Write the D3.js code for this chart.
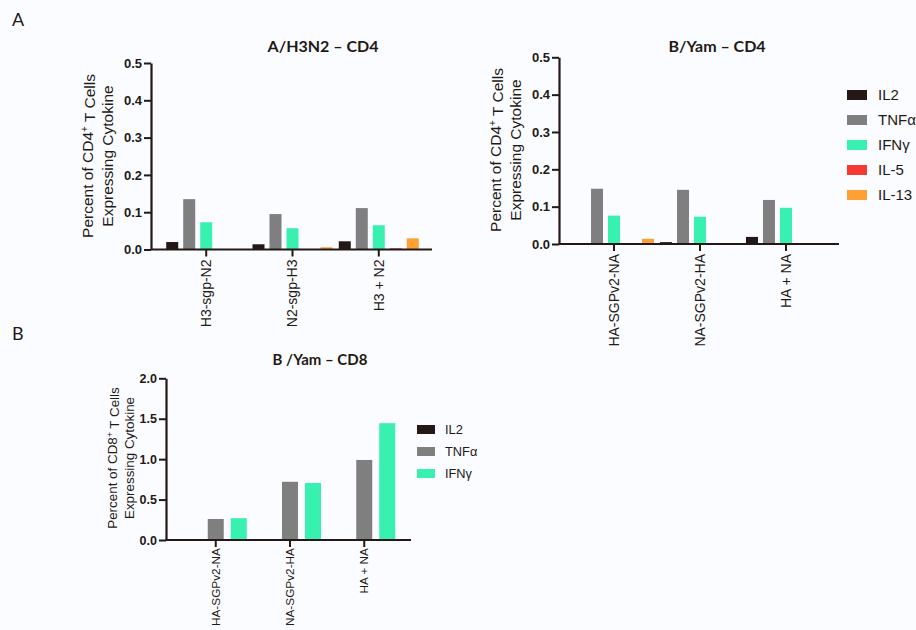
<html>
<meta charset="utf-8">

<head>
    <script src="https://d3js.org/d3.v7.min.js"></script>
    <style>
        body {
            margin: 0;
            background: #fbfcff;
        }

        .tick text {
            font-family: "Liberation Sans", Arial, sans-serif;
        }
    </style>
</head>

<body>
    <svg id="fig" width="916" height="630"></svg>

    <script>
        // cytokines and colours
        const cytokines = ["IL2", "TNFα", "IFNγ", "IL-5", "IL-13"];
        const colors = ["#231815", "#7f7f7f", "#38f0b0", "#f53a35", "#ffa034"];

        // A/H3N2 - CD4
        const h3n2Groups = ["H3-sgp-N2", "N2-sgp-H3", "H3 + N2"];
        const h3n2IL2 = [0.020, 0.014, 0.022];
        const h3n2TNF = [0.135, 0.095, 0.111];
        const h3n2IFN = [0.073, 0.057, 0.065];
        const h3n2IL5 = [0.000, 0.000, 0.003];
        const h3n2IL13 = [0.000, 0.006, 0.030];

        // B/Yam - CD4
        const yamGroups = ["HA-SGPv2-NA", "NA-SGPv2-HA", "HA + NA"];
        const yamIL2 = [0.002, 0.005, 0.019];
        const yamTNF = [0.148, 0.145, 0.118];
        const yamIFN = [0.076, 0.073, 0.097];
        const yamIL5 = [0.000, 0.002, 0.000];
        const yamIL13 = [0.014, 0.002, 0.000];

        // B/Yam - CD8
        const cd8IL2 = [0.000, 0.000, 0.010];
        const cd8TNF = [0.26, 0.72, 0.99];
        const cd8IFN = [0.27, 0.705, 1.445];

        const svg = d3.select("svg#fig");

        svg.append("text").text("A").attr("x", 12).attr("y", 26)
            .style("font-family", "Lato, sans-serif").style("font-size", "18px").attr("fill", "#231815");
        svg.append("text").text("B").attr("x", 12).attr("y", 340)
            .style("font-family", "Lato, sans-serif").style("font-size", "18px").attr("fill", "#231815");

        function drawPanel(cfg) {
            const g = svg.append("g");
            const x = d3.scaleBand().domain(cfg.groups).range([cfg.x0, cfg.x1]).paddingInner(cfg.pad).paddingOuter(cfg.padOuter);
            const y = d3.scaleLinear().domain([0, cfg.ymax]).range([cfg.yb, cfg.yt]);
            const barStep = cfg.barStep;
            const barW = cfg.barW;
            const n = cfg.series.length;

            // bars
            cfg.groups.forEach((grp, gi) => {
                const cx = x(grp) + x.bandwidth() / 2;
                const start = cx - ((n - 1) * barStep + barW) / 2;
                cfg.series.forEach((s, si) => {
                    const v = s[gi];
                    if (v <= 0) return;
                    g.append("rect")
                        .attr("x", start + si * barStep)
                        .attr("width", barW)
                        .attr("y", y(v))
                        .attr("height", Math.max(0.8, y(0) - y(v)))
                        .attr("fill", colors[si]);
                });
            });

            // y axis
            const yAxis = d3.axisLeft(y).tickValues(cfg.yticks).tickFormat(d3.format(".1f")).tickSize(7).tickSizeOuter(0);
            const ya = g.append("g").attr("transform", `translate(${cfg.x0},0)`).call(yAxis);
            ya.select(".domain").attr("stroke", "#231815").attr("stroke-width", 2.2);
            ya.selectAll(".tick line").attr("stroke", "#231815").attr("stroke-width", 2);
            ya.selectAll(".tick text").style("font-size", cfg.tickFont).style("font-weight", "bold")
                .attr("fill", "#231815").attr("x", -9);

            // x axis
            const xAxis = d3.axisBottom(x).tickSize(7).tickSizeOuter(0);
            const xa = g.append("g").attr("transform", `translate(0,${cfg.yb})`).call(xAxis);
            xa.select(".domain").attr("stroke", "#231815").attr("stroke-width", 2.2)
                .attr("d", `M${cfg.x0},0H${cfg.xend}`);
            xa.selectAll(".tick line").attr("stroke", "#231815").attr("stroke-width", 2);
            xa.selectAll(".tick text")
                .style("font-size", cfg.xFont)
                .attr("fill", "#231815")
                .attr("transform", "rotate(-90)")
                .attr("text-anchor", "end")
                .attr("x", cfg.xOff).attr("y", 0).attr("dy", "0.35em");

            // title
            g.append("text").text(cfg.title)
                .attr("x", cfg.titleX).attr("y", cfg.titleY)
                .attr("text-anchor", "middle")
                .style("font-family", "Lato, sans-serif").style("font-weight", "bold").style("font-size", cfg.titleFont)
                .attr("fill", "#231815");

            // y label
            const yl = g.append("text")
                .attr("transform", `translate(${cfg.labX},${cfg.labY}) rotate(-90)`)
                .attr("text-anchor", "middle")
                .style("font-family", "'Liberation Sans', Arial, sans-serif")
                .style("font-size", cfg.labFont)
                .attr("fill", "#231815");
            const l1 = yl.append("tspan").attr("x", 0).attr("y", 0);
            l1.append("tspan").text("Percent of " + cfg.cell);
            l1.append("tspan").text("+").attr("dy", "-0.45em").style("font-size", "0.65em");
            l1.append("tspan").text(" T Cells").attr("dy", "0.45em");
            yl.append("tspan").text("Expressing Cytokine").attr("x", 0).attr("y", cfg.labGap);

            // legend
            if (cfg.legend) {
                const lg = g.append("g");
                cfg.series.forEach((s, i) => {
                    lg.append("rect").attr("x", cfg.legX).attr("y", cfg.legY + i * cfg.legStep)
                        .attr("width", cfg.legW).attr("height", cfg.legH).attr("fill", colors[i]);
                    lg.append("text").text(cytokines[i])
                        .attr("x", cfg.legX + cfg.legW + cfg.legTextGap)
                        .attr("y", cfg.legY + i * cfg.legStep + cfg.legH / 2)
                        .attr("dy", "0.35em")
                        .style("font-family", "'Liberation Sans', Arial, sans-serif")
                        .style("font-size", cfg.legFont)
                        .attr("fill", "#231815");
                });
            }
        }

        drawPanel({
            title: "A/H3N2 – CD4", titleX: 323, titleY: 52, titleFont: "16px",
            groups: h3n2Groups,
            series: [h3n2IL2, h3n2TNF, h3n2IFN, h3n2IL5, h3n2IL13],
            x0: 151, x1: 434, xend: 432, pad: 0.12, padOuter: 0.2,
            yb: 249.5, yt: 63, ymax: 0.5, yticks: [0, 0.1, 0.2, 0.3, 0.4, 0.5],
            barStep: 17, barW: 12,
            tickFont: "13px", xFont: "14px", xOff: -10,
            cell: "CD4", labX: 93, labY: 156, labFont: "15.5px", labGap: 20,
            legend: false
        });

        drawPanel({
            title: "B/Yam – CD4", titleX: 717, titleY: 52, titleFont: "16px",
            groups: yamGroups,
            series: [yamIL2, yamTNF, yamIFN, yamIL5, yamIL13],
            x0: 559, x1: 841, xend: 839, pad: 0.12, padOuter: 0.2,
            yb: 244, yt: 57.3, ymax: 0.5, yticks: [0, 0.1, 0.2, 0.3, 0.4, 0.5],
            barStep: 17, barW: 12,
            tickFont: "13px", xFont: "14px", xOff: -10,
            cell: "CD4", labX: 501, labY: 150, labFont: "15.5px", labGap: 20,
            legend: true, legX: 847, legY: 90, legStep: 25, legW: 20, legH: 10, legTextGap: 11, legFont: "15px"
        });

        drawPanel({
            title: "B /Yam – CD8", titleX: 320, titleY: 365, titleFont: "15px",
            groups: yamGroups,
            series: [cd8IL2, cd8TNF, cd8IFN],
            x0: 166, x1: 414, xend: 411, pad: 0.1, padOuter: 0.22,
            yb: 540, yt: 378.3, ymax: 2.0, yticks: [0, 0.5, 1.0, 1.5, 2.0],
            barStep: 23, barW: 16,
            tickFont: "12.5px", xFont: "11.8px", xOff: -8,
            cell: "CD8", labX: 117, labY: 458, labFont: "13.4px", labGap: 17,
            legend: true, legX: 417, legY: 425, legStep: 22, legW: 18, legH: 9, legTextGap: 10, legFont: "12.8px"
        });
    </script>
</body>

</html>
